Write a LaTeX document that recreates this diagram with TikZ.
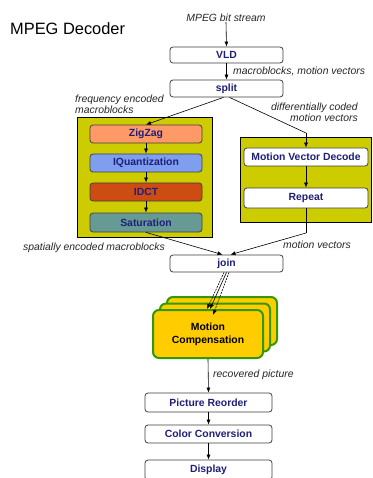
\documentclass[tikz,border=0pt]{standalone}
\usepackage{fontspec}
\setmainfont{Liberation Sans}
\usetikzlibrary{arrows.meta,calc}
\definecolor{navy}{HTML}{1F1F7A}
\definecolor{panelol}{HTML}{CCCC00}
\definecolor{zzfill}{HTML}{FF9966}
\definecolor{iqfill}{HTML}{7F9FEE}
\definecolor{idfill}{HTML}{CC4C14}
\definecolor{safill}{HTML}{679A95}
\definecolor{mcgreen}{HTML}{339900}
\definecolor{mcgold}{HTML}{FFCC00}
\begin{document}
\begin{tikzpicture}[x=1pt,y=-1pt,
  box/.style={draw=black!75, line width=0.8pt, rounded corners=3pt, fill=white,
    inner sep=0pt, font=\bfseries\fontsize{10.4}{11}\selectfont, text=navy},
  lbl/.style={font=\itshape\fontsize{10.4}{8.5}\selectfont, inner sep=0pt, text=black!85},
  arr/.style={-{Latex[length=5pt,width=4pt]}, line width=0.6pt},
  ln/.style={line width=0.6pt},
  panel/.style={draw=black, line width=0.8pt, fill=panelol, inner sep=0pt},
  mcbox/.style={draw=mcgreen, line width=2pt, rounded corners=6pt, fill=mcgold,
    minimum width=110pt, minimum height=48pt, inner sep=0pt}
]
\clip (0,0) rectangle (372,478);
\fill[white] (0,0) rectangle (372,478);

% title
\node[font=\fontsize{16.4}{17}\selectfont, anchor=west, inner sep=0pt] (title) at (10,29) {MPEG Decoder};

% panels
\node[panel, minimum width=135pt, minimum height=120pt] (lpanel) at (144.5,177) {};
\node[panel, minimum width=131pt, minimum height=85pt] (rpanel) at (305.5,179.5) {};

% top chain
\node[lbl] (bits) at (226,18) {MPEG bit stream};
\node[box, minimum width=113pt, minimum height=16pt] (vld) at (226.5,55) {VLD};
\node[box, minimum width=113pt, minimum height=17pt] (split) at (226.5,88.5) {split};
\node[lbl, anchor=west] (mbmv) at (233,71) {macroblocks, motion vectors};

% left panel boxes
\node[box, fill=zzfill, minimum width=112pt, minimum height=18pt] (zz) at (146,134) {ZigZag};
\node[box, fill=iqfill, minimum width=112pt, minimum height=18pt] (iq) at (146,163) {IQuantization};
\node[box, fill=idfill, minimum width=112pt, minimum height=18pt] (idct) at (146,192) {IDCT};
\node[box, fill=safill, minimum width=112pt, minimum height=19pt] (sat) at (146,222.5) {Saturation};

% right panel boxes
\node[box, minimum width=124pt, minimum height=18pt] (mvd) at (306,157) {Motion Vector Decode};
\node[box, minimum width=124pt, minimum height=20pt] (rep) at (306,198) {Repeat};

% labels
\node[lbl, align=left, anchor=west] (fem) at (75,104) {frequency encoded\\macroblocks};
\node[lbl, align=right, anchor=east] (dcmv) at (358,112.5) {differentially coded\\motion vectors};
\node[lbl, anchor=west] (sem) at (23,248) {spatially encoded macroblocks};
\node[lbl, anchor=west] (mv) at (283,245) {motion vectors};

% join
\node[box, minimum width=113pt, minimum height=17pt] (join) at (226.5,263.5) {join};

% motion compensation stack
\node[mcbox] (mc3) at (222,321) {};
\node[mcbox] (mc2) at (215,327.5) {};
\node[mcbox, align=center, font=\bfseries\fontsize{10.4}{13}\selectfont] (mc1) at (208,334) {Motion\\Compensation};

% bottom chain
\node[lbl, anchor=west] (rp) at (213,375) {recovered picture};
\node[box, minimum width=127pt, minimum height=19pt] (pr) at (208.5,402.5) {Picture Reorder};
\node[box, minimum width=127pt, minimum height=18pt] (cc) at (208.5,434) {Color Conversion};
\node[box, minimum width=127pt, minimum height=20pt] (disp) at (208.5,470) {Display};

% coordinates
\coordinate (bendR) at (306,133);
\coordinate (bendJ) at (306,233);

% connectors
\draw[arr] (bits.south) -- (vld.north);
\draw[arr] (vld.south) -- (split.north);
\draw[arr] ([xshift=-3pt]split.south) -- (zz.north);
\draw[ln] ([xshift=3pt]split.south) -- (bendR);
\draw[arr] (bendR) -- (mvd.north);
\draw[arr] (zz.south) -- (iq.north);
\draw[arr] (iq.south) -- (idct.north);
\draw[arr] (idct.south) -- (sat.north);
\draw[arr] (mvd.south) -- (rep.north);
\draw[arr] (sat.south) -- ([xshift=-4pt]join.north);
\draw[ln] (rep.south) -- (bendJ);
\draw[arr] (bendJ) -- ([xshift=4pt]join.north);
\draw[arr] (join.south) -- ([xshift=2pt]mc1.north);
\draw[arr, dash pattern=on 2pt off 1pt] ([xshift=-2.5pt]join.south) -- ([xshift=-1pt]mc1.north);
\draw[arr, dash pattern=on 2pt off 1pt] ([xshift=2.5pt]join.south) -- ([xshift=5pt,yshift=-6pt]mc1.north);
\draw[arr] (mc1.south) -- (pr.north);
\draw[arr] (pr.south) -- (cc.north);
\draw[arr] (cc.south) -- (disp.north);
\end{tikzpicture}
\end{document}
